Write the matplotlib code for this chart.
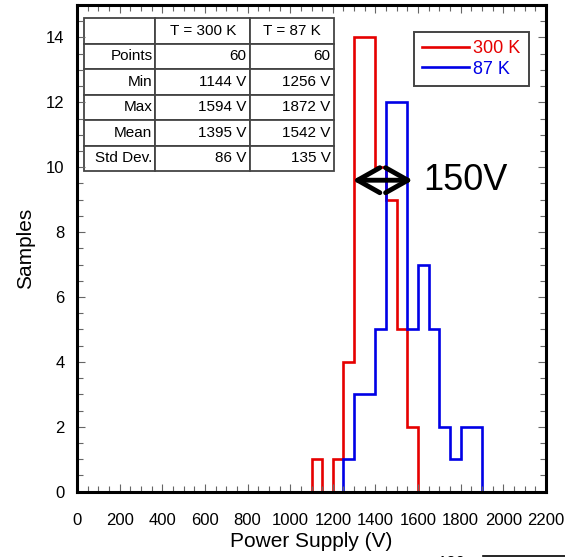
import numpy as np
import matplotlib
matplotlib.use('Agg')
import matplotlib.pyplot as plt
from matplotlib.ticker import MultipleLocator

plt.rcParams['font.family'] = ['Liberation Sans', 'DejaVu Sans']

# histogram data (bin width 50 V)
red_edges = np.arange(1100, 1601, 50)
red_counts = [1, 0, 1, 4, 14, 14, 10, 9, 5, 2]
blue_edges = np.arange(1250, 1901, 50)
blue_counts = [1, 3, 3, 5, 12, 12, 5, 7, 5, 2, 1, 2, 2]

# table contents
col_labels = ['', 'T = 300 K', 'T = 87 K']
row_labels = ['Points', 'Min', 'Max', 'Mean', 'Std Dev.']
col_300 = ['60', '1144 V', '1594 V', '1395 V', '86 V']
col_87 = ['60', '1256 V', '1872 V', '1542 V', '135 V']

fig = plt.figure(figsize=(5.65, 5.57), dpi=100)
ax = fig.add_axes([0.1363, 0.1172, 0.8301, 0.8738])

ax.stairs(red_counts, red_edges, color='#e60000', lw=1.9, label='300 K')
ax.stairs(blue_counts, blue_edges, color='#0000e6', lw=1.9, label='87 K')

ax.set_xlim(0, 2200)
ax.set_ylim(0, 15)
ax.xaxis.set_major_locator(MultipleLocator(200))
ax.xaxis.set_minor_locator(MultipleLocator(50))
ax.yaxis.set_major_locator(MultipleLocator(2))
ax.yaxis.set_minor_locator(MultipleLocator(0.5))
ax.tick_params(which='both', direction='in', top=True, right=True,
               color='#666666', width=0.8)
ax.tick_params(which='major', length=6, labelsize=12)
ax.tick_params(which='minor', length=4)
ax.tick_params(axis='x', which='major', pad=15)
ax.tick_params(axis='y', which='major', pad=9)
for s in ax.spines.values():
    s.set_linewidth(2.2)

ax.set_xlabel('Power Supply (V)', fontsize=15, labelpad=3)
ax.set_ylabel('Samples', fontsize=15, labelpad=8)

# stats table
cells = [[r, a, b] for r, a, b in zip(row_labels, col_300, col_87)]
tab = ax.table(cellText=[col_labels] + cells, cellLoc='right',
               bbox=[0.0149, 0.659, 0.533, 0.314],
               colWidths=[0.285, 0.38, 0.335])
tab.auto_set_font_size(False)
tab.set_fontsize(11)
for (r, c), cell in tab.get_celld().items():
    cell.set_edgecolor('#444444')
    cell.set_linewidth(1.3)
    cell.PAD = 0.04
    if r == 0:
        cell.get_text().set_ha('center')
        cell._loc = 'center'

leg = ax.legend(loc='upper right', bbox_to_anchor=(0.963, 0.945), fontsize=13,
                handlelength=2.6, handletextpad=0.25, borderpad=0.45,
                labelspacing=0.2, borderaxespad=0, fancybox=False, framealpha=1)
leg.get_frame().set_edgecolor('#444444')
leg.get_frame().set_linewidth(1.4)
for txt, line in zip(leg.get_texts(), leg.get_lines()):
    txt.set_color(line.get_color())

# 150V double arrow (open chevron heads)
ax.annotate('', xy=(1293, 9.6), xytext=(1575, 9.6),
            arrowprops=dict(arrowstyle='<->, head_length=0.8, head_width=0.45',
                            color='black', lw=3.5, mutation_scale=20,
                            shrinkA=0, shrinkB=0))
ax.text(1625, 9.6, '150V', fontsize=26, va='center', ha='left')

# cut-off fragment of the next panel
fig.text(0.775, -0.012, '120', fontsize=12, ha='left', va='center')
fig.add_artist(plt.Line2D([0.855, 1.0], [0.002, 0.002], color='black', lw=1.2,
                          transform=fig.transFigure))

fig.savefig('out.png', dpi=100)
